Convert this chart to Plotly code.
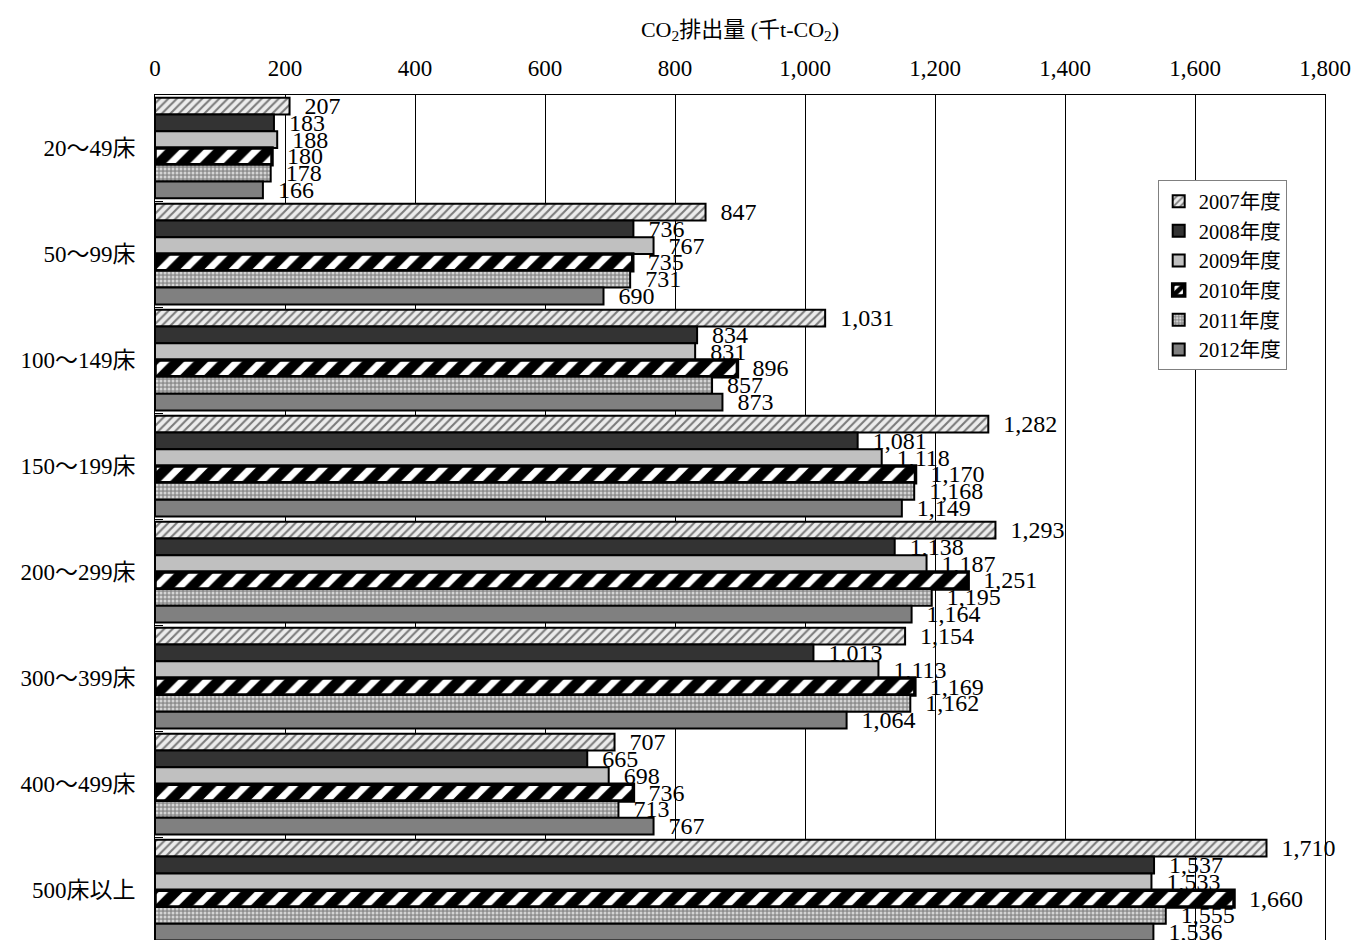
import plotly.graph_objects as go

categories = ["20～49床", "50～99床", "100～149床", "150～199床",
              "200～299床", "300～399床", "400～499床", "500床以上"]
series_names = ["2007年度", "2008年度", "2009年度", "2010年度", "2011年度", "2012年度"]
v2007 = [207, 847, 1031, 1282, 1293, 1154, 707, 1710]
v2008 = [183, 736, 834, 1081, 1138, 1013, 665, 1537]
v2009 = [188, 767, 831, 1118, 1187, 1113, 698, 1533]
v2010 = [180, 735, 896, 1170, 1251, 1169, 736, 1660]
v2011 = [178, 731, 857, 1168, 1195, 1162, 713, 1555]
v2012 = [166, 690, 873, 1149, 1164, 1064, 767, 1536]
x_ticks = [0, 200, 400, 600, 800, 1000, 1200, 1400, 1600, 1800]

series_values = [v2007, v2008, v2009, v2010, v2011, v2012]

FONT = "Liberation Serif, Noto Sans CJK JP, serif"

styles = [
    dict(color="white", line=dict(color="black", width=2),
         pattern=dict(shape="/", fgcolor="#7a7a7a", bgcolor="#ececec", size=6,
                      solidity=0.35, fgopacity=1, fillmode="replace")),
    dict(color="#333333", line=dict(color="black", width=2)),
    dict(color="#c0c0c0", line=dict(color="black", width=2)),
    dict(color="white", line=dict(color="black", width=3.5),
         pattern=dict(shape="/", fgcolor="black", bgcolor="white", size=17,
                      solidity=0.6, fgopacity=1, fillmode="replace")),
    dict(color="#a0a0a0", line=dict(color="black", width=2),
         pattern=dict(shape=".", fgcolor="#d4d4d4", bgcolor="#8e8e8e", size=4,
                      solidity=0.45, fgopacity=1, fillmode="replace")),
    dict(color="#808080", line=dict(color="black", width=2)),
]

fig = go.Figure()
for name, vals, st in zip(series_names, series_values, styles):
    fig.add_trace(go.Bar(
        y=categories, x=vals, name=name, orientation="h",
        marker=st,
        text=["\u00a0\u00a0" + f"{v:,}" for v in vals],
        textposition="outside", constraintext="none", cliponaxis=False,
        textfont=dict(family=FONT, size=24, color="black"),
    ))

fig.update_layout(
    width=1355, height=940,
    margin=dict(l=155, r=30, t=95, b=0, autoexpand=False),
    paper_bgcolor="white", plot_bgcolor="white",
    barmode="group", bargap=0.05, bargroupgap=0,
    font=dict(family=FONT, size=23, color="black"),
    showlegend=True,
    legend=dict(x=0.857, y=0.899, xanchor="left", yanchor="top",
                bordercolor="#808080", borderwidth=1, bgcolor="white",
                font=dict(family=FONT, size=20.5, color="black"),
                tracegroupgap=0, itemwidth=30),
    xaxis=dict(side="top", range=[0, 1800], tickvals=x_ticks,
               ticktext=[f"{t:,}" for t in x_ticks],
               showgrid=True, gridcolor="black", gridwidth=1,
               showline=True, linecolor="black", linewidth=1, mirror=True,
               ticks="", zeroline=False, automargin=False, ticklabelstandoff=9,
               tickfont=dict(family=FONT, size=23),
               title=dict(text="CO<sub>2</sub>排出量 (千t-CO<sub>2</sub>)",
                          font=dict(family=FONT, size=22), standoff=12)),
    yaxis=dict(range=[7.47, -0.5], type="category", automargin=False,
               showline=True, linecolor="black", linewidth=1, mirror=True,
               ticks="inside", tickson="boundaries", ticklen=8, tickcolor="black",
               showgrid=False, ticklabelstandoff=14,
               tickfont=dict(family=FONT, size=23)),
)

fig.write_html(
    "out.html",
    config={"displayModeBar": False},
    post_script="document.body.style.margin='0';document.body.style.overflow='hidden';",
)
